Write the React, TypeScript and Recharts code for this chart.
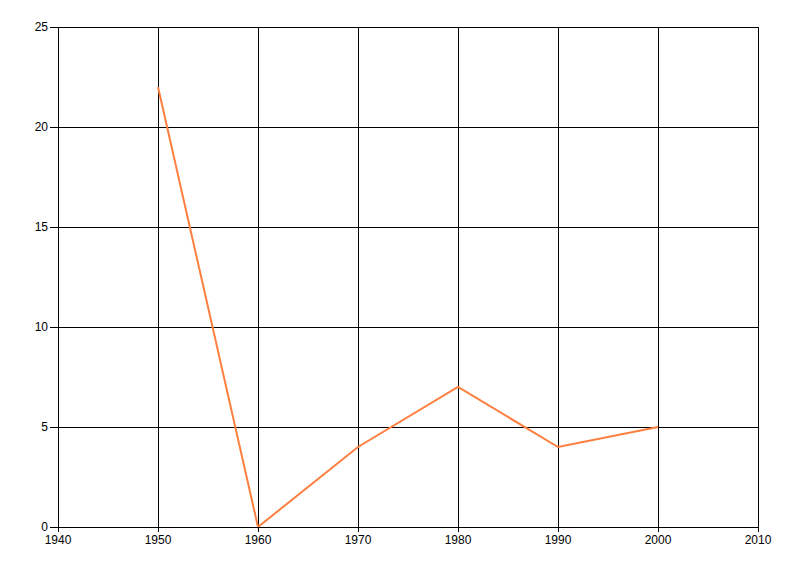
import { LineChart, Line, XAxis, YAxis, CartesianGrid } from "recharts";

const years = [1950, 1960, 1970, 1980, 1990, 2000];
const values = [22, 0, 4, 7, 4, 5];
const xTicks = [1940, 1950, 1960, 1970, 1980, 1990, 2000, 2010];
const yTicks = [0, 5, 10, 15, 20, 25];

const data = years.map((year, i) => ({ year, value: values[i] }));

const tickStyle = { fontSize: 12, fill: "#000", fontFamily: "'Liberation Sans', Arial, sans-serif" };

export default function App() {
  return (
    <div style={{ position: "absolute", left: 0, top: 0, width: 800, height: 576, background: "#fff" }}>
      <LineChart width={800} height={576} data={data} margin={{ top: 27, right: 42, bottom: 19, left: 0 }}>
        <CartesianGrid stroke="#000" strokeWidth={1} shapeRendering="crispEdges" />
        <XAxis
          dataKey="year"
          type="number"
          domain={[1940, 2010]}
          ticks={xTicks}
          tick={tickStyle}
          height={30}
          tickSize={5}
          tickMargin={3}
          stroke="#000"
          interval={0}
          shapeRendering="crispEdges"
        />
        <YAxis
          type="number"
          domain={[0, 25]}
          ticks={yTicks}
          tick={tickStyle}
          width={58}
          tickSize={8}
          tickMargin={2}
          stroke="#000"
          interval={0}
          shapeRendering="crispEdges"
        />
        <Line
          type="linear"
          dataKey="value"
          stroke="#FF7F3F"
          strokeWidth={2}
          dot={false}
          isAnimationActive={false}
        />
      </LineChart>
    </div>
  );
}
